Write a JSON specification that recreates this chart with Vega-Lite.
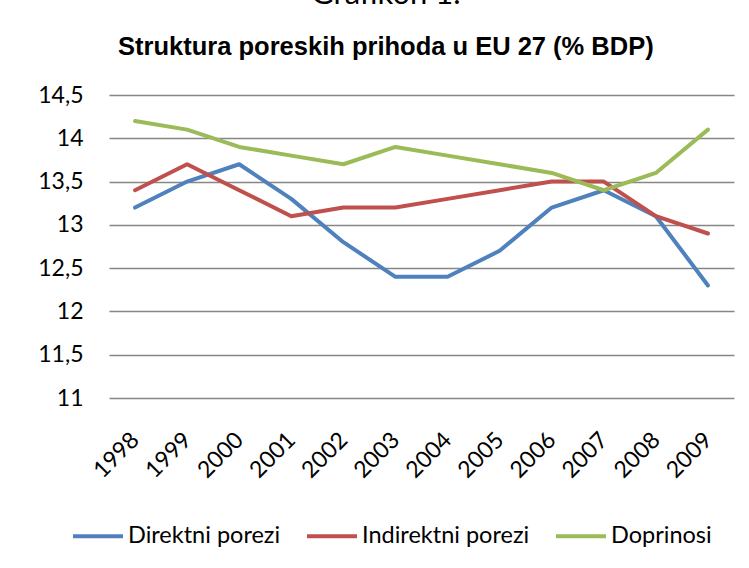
{
  "$schema": "https://vega.github.io/schema/vega-lite/v6.json",
  "width": 625,
  "height": 303,
  "autosize": {"type": "none"},
  "padding": {"left": 109, "top": 95, "right": 15, "bottom": 170},
  "background": "white",
  "title": {
    "text": "Grafikon 1.",
    "subtitle": "Struktura poreskih prihoda u EU 27 (% BDP)",
    "anchor": "middle",
    "frame": "bounds",
    "font": "Lato",
    "fontSize": 31,
    "fontWeight": "normal",
    "color": "#000000",
    "subtitleFont": "Liberation Sans",
    "subtitleFontSize": 25.5,
    "subtitleFontWeight": "bold",
    "subtitleColor": "#000000",
    "subtitlePadding": 24,
    "offset": 23
  },
  "config": {
    "locale": {"number": {"decimal": ",", "thousands": ".", "grouping": [3], "currency": ["", ""]}},
    "view": {"stroke": null},
    "font": "Lato"
  },
  "data": {
    "values": [
      {"year": "1998", "series": "Direktni porezi", "value": 13.2},
      {"year": "1999", "series": "Direktni porezi", "value": 13.5},
      {"year": "2000", "series": "Direktni porezi", "value": 13.7},
      {"year": "2001", "series": "Direktni porezi", "value": 13.3},
      {"year": "2002", "series": "Direktni porezi", "value": 12.8},
      {"year": "2003", "series": "Direktni porezi", "value": 12.4},
      {"year": "2004", "series": "Direktni porezi", "value": 12.4},
      {"year": "2005", "series": "Direktni porezi", "value": 12.7},
      {"year": "2006", "series": "Direktni porezi", "value": 13.2},
      {"year": "2007", "series": "Direktni porezi", "value": 13.4},
      {"year": "2008", "series": "Direktni porezi", "value": 13.1},
      {"year": "2009", "series": "Direktni porezi", "value": 12.3},
      {"year": "1998", "series": "Indirektni porezi", "value": 13.4},
      {"year": "1999", "series": "Indirektni porezi", "value": 13.7},
      {"year": "2000", "series": "Indirektni porezi", "value": 13.4},
      {"year": "2001", "series": "Indirektni porezi", "value": 13.1},
      {"year": "2002", "series": "Indirektni porezi", "value": 13.2},
      {"year": "2003", "series": "Indirektni porezi", "value": 13.2},
      {"year": "2004", "series": "Indirektni porezi", "value": 13.3},
      {"year": "2005", "series": "Indirektni porezi", "value": 13.4},
      {"year": "2006", "series": "Indirektni porezi", "value": 13.5},
      {"year": "2007", "series": "Indirektni porezi", "value": 13.5},
      {"year": "2008", "series": "Indirektni porezi", "value": 13.1},
      {"year": "2009", "series": "Indirektni porezi", "value": 12.9},
      {"year": "1998", "series": "Doprinosi", "value": 14.2},
      {"year": "1999", "series": "Doprinosi", "value": 14.1},
      {"year": "2000", "series": "Doprinosi", "value": 13.9},
      {"year": "2001", "series": "Doprinosi", "value": 13.8},
      {"year": "2002", "series": "Doprinosi", "value": 13.7},
      {"year": "2003", "series": "Doprinosi", "value": 13.9},
      {"year": "2004", "series": "Doprinosi", "value": 13.8},
      {"year": "2005", "series": "Doprinosi", "value": 13.7},
      {"year": "2006", "series": "Doprinosi", "value": 13.6},
      {"year": "2007", "series": "Doprinosi", "value": 13.4},
      {"year": "2008", "series": "Doprinosi", "value": 13.6},
      {"year": "2009", "series": "Doprinosi", "value": 14.1}
    ]
  },
  "mark": {"type": "line", "strokeWidth": 4, "strokeCap": "round", "strokeJoin": "round"},
  "encoding": {
    "x": {
      "field": "year",
      "type": "ordinal",
      "scale": {"type": "point", "padding": 0.5},
      "axis": {
        "title": null,
        "domain": false,
        "ticks": false,
        "grid": false,
        "labelAngle": -45,
        "labelAlign": "right",
        "labelBaseline": "middle",
        "labelPadding": 38,
        "labelFont": "Lato",
        "labelFontSize": 23,
        "labelColor": "#000000"
      }
    },
    "y": {
      "field": "value",
      "type": "quantitative",
      "scale": {"domain": [11, 14.5], "nice": false, "zero": false},
      "axis": {
        "title": null,
        "values": [11, 11.5, 12, 12.5, 13, 13.5, 14, 14.5],
        "format": "~g",
        "domain": false,
        "ticks": false,
        "grid": true,
        "gridColor": "#868686",
        "gridWidth": 1.3,
        "labelPadding": 26,
        "labelFont": "Lato",
        "labelFontSize": 23,
        "labelColor": "#000000"
      }
    },
    "color": {
      "field": "series",
      "type": "nominal",
      "sort": ["Direktni porezi", "Indirektni porezi", "Doprinosi"],
      "scale": {
        "domain": ["Direktni porezi", "Indirektni porezi", "Doprinosi"],
        "range": ["#4F81BD", "#C0504D", "#9BBB59"]
      },
      "legend": {
        "title": null,
        "orient": "none",
        "direction": "horizontal",
        "legendX": -38,
        "legendY": 414,
        "symbolType": "stroke",
        "symbolSize": 2500,
        "symbolStrokeWidth": 4,
        "labelFont": "Lato",
        "labelFontSize": 23.5,
        "labelLimit": 400,
        "labelColor": "#000000",
        "labelOffset": 3,
        "columnPadding": 18
      }
    }
  }
}
